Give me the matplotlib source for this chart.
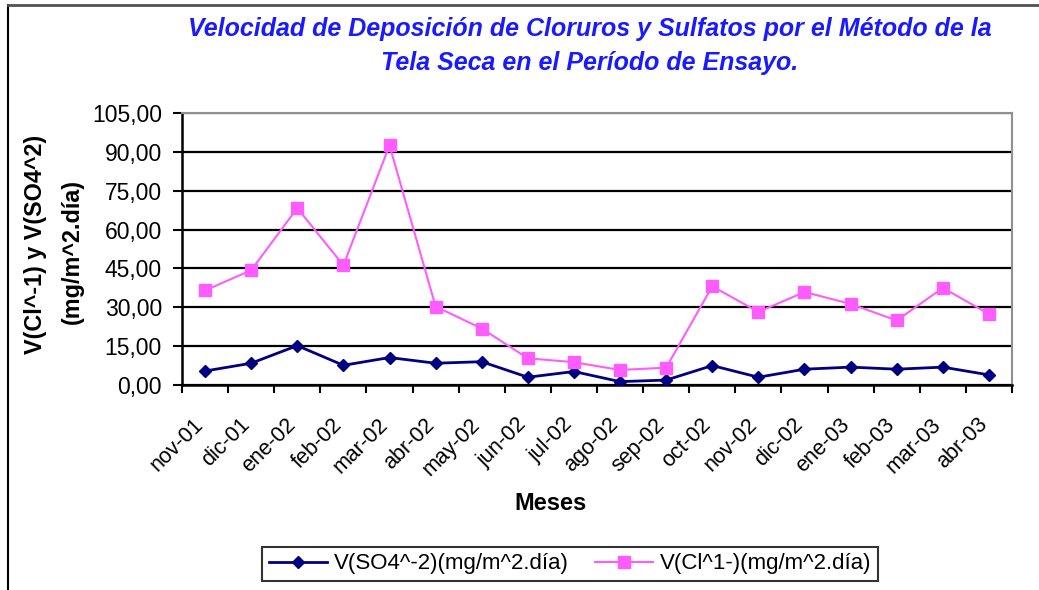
import matplotlib
matplotlib.use("Agg")
import matplotlib.pyplot as plt
from matplotlib.ticker import FuncFormatter, FixedLocator
from matplotlib.transforms import ScaledTranslation
from matplotlib.lines import Line2D
import numpy as np

months = ["nov-01", "dic-01", "ene-02", "feb-02", "mar-02", "abr-02", "may-02",
          "jun-02", "jul-02", "ago-02", "sep-02", "oct-02", "nov-02", "dic-02",
          "ene-03", "feb-03", "mar-03", "abr-03"]
so4 = [5.4, 8.4, 15.2, 7.6, 10.6, 8.4, 9.0, 3.0, 5.2, 1.3, 1.9, 7.5, 3.0, 6.1,
       6.9, 6.1, 6.9, 3.9]
cl = [36.5, 44.3, 68.3, 46.2, 92.5, 30.3, 21.8, 10.3, 8.8, 5.8, 6.7, 38.1, 28.2,
      35.9, 31.3, 24.9, 37.5, 27.4]
yticks = [0, 15, 30, 45, 60, 75, 90, 105]

plt.rcParams['font.family'] = ['Liberation Sans', 'DejaVu Sans']

W, H = 1039, 590
fig = plt.figure(figsize=(W / 100, H / 100), dpi=100)
ax = fig.add_axes([182 / W, 1 - 385 / H, (1012 - 182) / W, (385 - 113) / H])

x = np.arange(len(months))
ax.plot(x, so4, color='#000080', lw=2, marker='D', ms=6.5, mfc='#000080',
        mec='#000080', label='V(SO4^-2)(mg/m^2.día)', zorder=3)
ax.plot(x, cl, color='#FF5CFF', lw=1.5, marker='s', ms=8.5, mfc='#FF5CFF',
        mec='#FF5CFF', label='V(Cl^1-)(mg/m^2.día)', zorder=3)

ax.set_xlim(-0.5, len(months) - 0.5)
ax.set_ylim(0, 105)
ax.yaxis.set_major_locator(FixedLocator(yticks))
ax.yaxis.set_major_formatter(FuncFormatter(lambda v, p: f"{v:.2f}".replace('.', ',')))
ax.grid(axis='y', color='black', lw=1.6)
ax.set_axisbelow(True)

ax.xaxis.set_major_locator(FixedLocator(np.arange(len(months) + 1) - 0.5))
ax.set_xticklabels([])
ax.tick_params(axis='x', direction='out', length=6, width=1.5, color='black')
ax.tick_params(axis='y', direction='out', length=6.5, width=1.5, color='black',
               labelsize=16.5, pad=8)

for s in ['left', 'bottom']:
    ax.spines[s].set_color('black')
    ax.spines[s].set_linewidth(1.8)
for s in ['top', 'right']:
    ax.spines[s].set_color('#909090')
    ax.spines[s].set_linewidth(1.5)

off = ScaledTranslation(-12 / 100, -29 / 100, fig.dpi_scale_trans)
for i, m in enumerate(months):
    ax.text(i, 0, m, transform=ax.get_xaxis_transform() + off, rotation=45,
            rotation_mode='anchor', ha='right', va='top', fontsize=15.5)

fig.text(550 / W, 1 - 504 / H, 'Meses', ha='center', va='center',
         fontsize=17, fontweight='bold')
fig.text(36 / W, 1 - 244 / H, 'V(Cl^-1) y V(SO4^2)', rotation=90, ha='center',
         va='center', fontsize=16.8, fontweight='bold')
fig.text(72 / W, 1 - 251 / H, '(mg/m^2.día)', rotation=90, ha='center',
         va='center', fontsize=16.8, fontweight='bold')

fig.text(590 / W, 1 - 29 / H,
         'Velocidad de Deposición de Cloruros y Sulfatos por el Método de la',
         ha='center', va='center', fontsize=18, fontweight='bold',
         style='italic', color='#1A1AFF')
fig.text(590 / W, 1 - 63 / H, 'Tela Seca en el Período de Ensayo.',
         ha='center', va='center', fontsize=18, fontweight='bold',
         style='italic', color='#1A1AFF')

leg = fig.legend(loc='center', bbox_to_anchor=(570 / W, 1 - 564 / H), ncol=2,
                 fontsize=16, frameon=True, fancybox=False, edgecolor='black',
                 handlelength=2.6, columnspacing=1.2, borderpad=0.3,
                 handletextpad=0.3)
leg.get_frame().set_linewidth(1.5)

fig.add_artist(Line2D([8 / W, 8 / W], [0, 1 - 5 / H], transform=fig.transFigure,
                      color='black', lw=1.5))
fig.add_artist(Line2D([8 / W, 1], [1 - 5 / H, 1 - 5 / H], transform=fig.transFigure,
                      color='#505050', lw=2))

fig.savefig('out.png', dpi=100)
